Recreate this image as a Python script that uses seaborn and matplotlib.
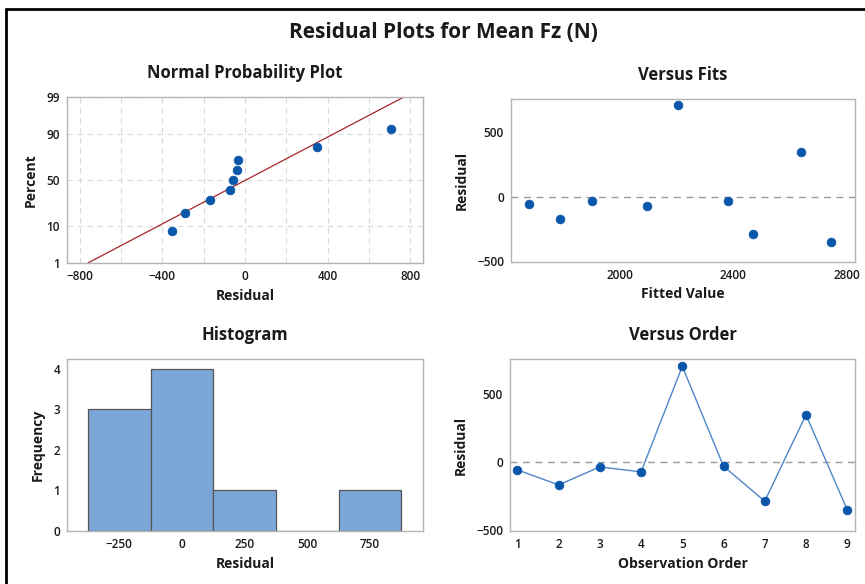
from statistics import NormalDist

import matplotlib
matplotlib.use("Agg")
import matplotlib.pyplot as plt
import numpy as np
import pandas as pd
import seaborn as sns

# residuals in observation order
order = [1, 2, 3, 4, 5, 6, 7, 8, 9]
residual = [-59, -170, -37, -74, 705, -32, -290, 347, -352]
fitted = [1680, 1788, 1902, 2096, 2206, 2380, 2468, 2638, 2745]
hist_edges = [-375, -125, 125, 375, 625, 875]
pct_ticks = [1, 10, 50, 90, 99]

BLUE = "#0A56A8"
LINE_BLUE = "#4D86C8"
BAR = "#7BA7D8"
SPINE = "#B4B4B4"
TXT = "#1A1A1A"

sns.set_theme(style="white")
plt.rcParams["font.family"] = ["Open Sans", "DejaVu Sans"]
plt.rcParams["text.color"] = TXT
plt.rcParams["axes.labelcolor"] = TXT
plt.rcParams["xtick.color"] = TXT
plt.rcParams["ytick.color"] = TXT

df = pd.DataFrame({"order": order, "residual": residual, "fitted": fitted})

nd = NormalDist()
srt = np.sort(df["residual"].values)
n = len(srt)
df_p = pd.DataFrame({"residual": srt,
                     "z": [nd.inv_cdf((i + 1 - 0.3) / (n + 0.4)) for i in range(n)]})
mu = df["residual"].mean()
sd = df["residual"].std()
zl = np.array([nd.inv_cdf(0.01), nd.inv_cdf(0.99)])
df_line = pd.DataFrame({"residual": mu + sd * zl, "z": zl})

fig = plt.figure(figsize=(8.65, 5.84), dpi=100)
W, H = 865, 584


def add_ax(l, t, r, b):
    return fig.add_axes([l / W, 1 - b / H, (r - l) / W, (b - t) / H])


def style(ax):
    for s in ax.spines.values():
        s.set_color(SPINE)
        s.set_linewidth(1.0)
    ax.tick_params(axis="both", length=3, width=0.8, color=SPINE, labelsize=8.5, pad=2)
    for lab in ax.get_xticklabels() + ax.get_yticklabels():
        lab.set_fontweight("semibold")


def labels(ax, title, xl, yl):
    ax.set_title(title, fontsize=12, fontweight="bold", pad=14)
    ax.set_xlabel(xl, fontsize=10, fontweight="bold", labelpad=4)
    ax.set_ylabel(yl, fontsize=10, fontweight="bold", labelpad=6)


# normal probability plot
ax1 = add_ax(67, 97, 423, 263)
sns.lineplot(data=df_line, x="residual", y="z", color="#A8242B", lw=0.9, ax=ax1)
sns.scatterplot(data=df_p, x="residual", y="z", color=BLUE, s=40, edgecolor=BLUE, ax=ax1, zorder=3)
ax1.set_xlim(-862, 862)
ax1.set_ylim(zl[0], zl[1])
ax1.set_xticks([-800, -400, 0, 400, 800])
ax1.set_xticks(np.arange(-800, 801, 200), minor=True)
ax1.set_yticks([nd.inv_cdf(p / 100) for p in pct_ticks])
ax1.set_yticklabels([str(p) for p in pct_ticks])
ax1.grid(True, which="both", axis="x", color="#DADADA", ls=(0, (5, 4)), lw=0.8)
ax1.grid(True, which="major", axis="y", color="#DADADA", ls=(0, (5, 4)), lw=0.8)
ax1.tick_params(axis="x", which="minor", length=0)
ax1.set_axisbelow(True)
style(ax1)
labels(ax1, "Normal Probability Plot", "Residual", "Percent")

# versus fits
ax2 = add_ax(511, 99, 855, 262)
ax2.axhline(0, color="#9A9A9A", ls=(0, (5, 4)), lw=1.0)
sns.scatterplot(data=df, x="fitted", y="residual", color=BLUE, s=40, edgecolor=BLUE, ax=ax2, zorder=3)
ax2.set_xlim(1615, 2830)
ax2.set_ylim(-505, 752)
ax2.set_xticks([2000, 2400, 2800])
ax2.set_yticks([-500, 0, 500])
style(ax2)
labels(ax2, "Versus Fits", "Fitted Value", "Residual")

# histogram
ax3 = add_ax(67, 359, 423, 531)
sns.histplot(data=df, x="residual", bins=hist_edges, color=BAR, alpha=1.0,
             edgecolor="#555555", linewidth=0.9, ax=ax3)
ax3.set_xlim(-459, 962)
ax3.set_ylim(0, 4.24)
ax3.set_xticks([-250, 0, 250, 500, 750])
ax3.set_yticks([0, 1, 2, 3, 4])
style(ax3)
labels(ax3, "Histogram", "Residual", "Frequency")

# versus order
ax4 = add_ax(510, 359, 855, 531)
ax4.axhline(0, color="#9A9A9A", ls=(0, (5, 4)), lw=1.0)
sns.lineplot(data=df, x="order", y="residual", color=LINE_BLUE, lw=1.0, ax=ax4)
sns.scatterplot(data=df, x="order", y="residual", color=BLUE, s=40, edgecolor=BLUE, ax=ax4, zorder=3)
ax4.set_xlim(0.82, 9.19)
ax4.set_ylim(-510, 759)
ax4.set_xticks(order)
ax4.set_yticks([-500, 0, 500])
style(ax4)
labels(ax4, "Versus Order", "Observation Order", "Residual")

fig.text(443 / W, 1 - 33 / H, "Residual Plots for Mean Fz (N)", ha="center", va="center",
         fontsize=15, fontweight="bold")

# frame on the top and left edges of the window
fig.add_artist(plt.Line2D([6 / W, 6 / W], [0, 1 - 9 / H], color="black", lw=2))
fig.add_artist(plt.Line2D([6 / W, 1], [1 - 9 / H, 1 - 9 / H], color="black", lw=2))

fig.savefig("out.png", dpi=100)
